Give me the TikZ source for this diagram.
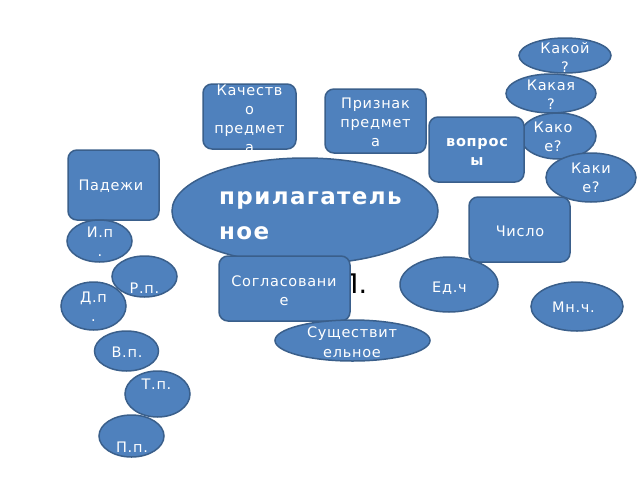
\documentclass[tikz,border=0pt]{standalone}
\usepackage{fontspec}
\usetikzlibrary{shapes.geometric}
\newfontfamily\lblfont[LetterSpace=5]{DejaVu Sans}
\newfontfamily\bigfont[LetterSpace=6]{DejaVu Sans}
\definecolor{fillblue}{HTML}{4F81BD}
\definecolor{edgeblue}{HTML}{3A5F8B}
\tikzset{
  box/.style={draw=edgeblue,fill=fillblue,line width=1.5pt,rounded corners=9pt,inner sep=0pt},
  oval/.style={draw=edgeblue,fill=fillblue,line width=1.5pt,ellipse,inner sep=0pt},
  lbl/.style={text=white,font=\lblfont\fontsize{14.5}{19}\selectfont,align=center,inner sep=0pt},
}
\begin{document}
\begin{tikzpicture}[x=1pt,y=-1pt]
        \useasboundingbox (0,0) rectangle (640,480);
        % upper boxes
        \node[box,minimum width=93pt,minimum height=65pt] (kach) at (249.5,116.5) {};
        \node[lbl] (kach-t) at (249.5,118.5) {Качеств\\о\\предмет\\а};
        \node[box,minimum width=101pt,minimum height=64pt] (priz) at (375.5,121) {};
        \node[lbl] (priz-t) at (375.5,122.5) {Признак\\предмет\\а};
        \node[box,minimum width=91pt,minimum height=70pt] (pad) at (113.5,185) {};
        \node[lbl] (pad-t) at (111,186) {Падежи};
        % question ovals
        \foreach \n/\x/\y/\rx/\ry/\tx/\ty/\t in {
            q1/565/55.5/46/17.5/565/57.5/{Какой\\?},
            q2/551/93.5/45/19.5/551/94.5/{Какая\\?},
            q3/558/136/38/23/553/136.5/{Како\\е?},
            q4/591/177.5/45/24.5/591/178/{Каки\\е?}}{
          \node[oval,minimum width=2*\rx pt,minimum height=2*\ry pt] (\n) at (\x,\y) {};
          \node[lbl] (\n-t) at (\tx,\ty) {\t};
        }
        \node[box,minimum width=95pt,minimum height=65pt] (vopr) at (476.5,149.5) {};
        \node[lbl,font=\lblfont\bfseries\fontsize{14.5}{19}\selectfont] (vopr-t) at (477,152) {вопрос\\ы};
        % centre
        \node[oval,minimum width=266pt,minimum height=106pt] (adj) at (305,211) {};
        \node[text=white,font=\bigfont\bfseries\fontsize{23}{35}\selectfont,align=left,inner sep=0pt,anchor=west] (adj-t) at (219,216) {прилагатель\\ное};
        \node[box,minimum width=101pt,minimum height=65pt] (num) at (519.5,229.5) {};
        \node[lbl] (num-t) at (520,231) {Число};
        % cases
        \foreach \n/\x/\y/\rx/\ry/\tx/\ty/\t in {
            ip/99.5/241/32.5/21/100/242/{И.п\\.},
            rp/144.5/276.5/32.5/20.5/144.5/288/{Р.п.},
            dp/93.5/306/32.5/24/93.5/307/{Д.п\\.},
            vp/126.5/351/32/20/127/352/{В.п.},
            tp/157.5/394/32.5/23/156.5/384/{Т.п.},
            pp/131.5/436/32.5/21/132/447.5/{П.п.}}{
          \node[oval,minimum width=2*\rx pt,minimum height=2*\ry pt] (\n) at (\x,\y) {};
          \node[lbl] (\n-t) at (\tx,\ty) {\t};
        }
        % agreement
        \node[font=\fontspec{DejaVu Sans}\fontsize{27}{30}\selectfont,inner sep=0pt,anchor=base west] (hid) at (338,293) {П.};
        \node[box,minimum width=131pt,minimum height=65pt] (sogl) at (284.5,288.5) {};
        \node[lbl] (sogl-t) at (284,290.5) {Согласовани\\е};
        \node[oval,minimum width=155pt,minimum height=41pt] (noun) at (352.5,340.5) {};
        \node[lbl,font=\lblfont\fontsize{14.5}{20}\selectfont] (noun-t) at (352,342) {Существит\\ельное};
        \node[oval,minimum width=98pt,minimum height=55pt] (sg) at (449,284.5) {};
        \node[lbl] (sg-t) at (449.5,288) {Ед.ч};
        \node[oval,minimum width=92pt,minimum height=49pt] (pl) at (577,306.5) {};
        \node[lbl] (pl-t) at (573.5,307.5) {Мн.ч.};
      \end{tikzpicture}
\end{document}
